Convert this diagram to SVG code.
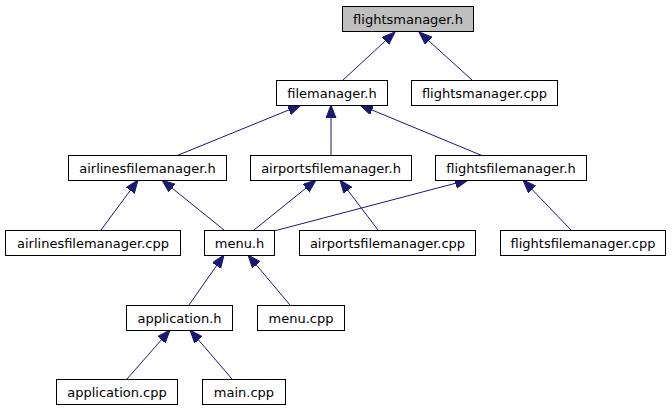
<svg xmlns="http://www.w3.org/2000/svg" width="672" height="411" viewBox="0 0 672 411">
<style>
.n rect{fill:#ffffff;stroke:#000000;stroke-width:1}
.n.root rect{fill:#bfbfbf}
.n text{font-family:"DejaVu Sans",sans-serif;font-size:13px;fill:#000000;text-anchor:middle}
.e line{stroke:#191970;stroke-width:1;marker-end:url(#ah)}
</style>
<defs>
<marker id="ah" markerUnits="userSpaceOnUse" markerWidth="14" markerHeight="11" refX="13" refY="5" orient="auto">
<path d="M0,0 L13,5 L0,10 z" fill="#191970" stroke="#191970" stroke-width="1"/>
</marker>
</defs>
<rect x="0" y="0" width="672" height="411" fill="#ffffff"/>
<g id="edges" class="e">
<line x1="343" y1="80" x2="395" y2="32"/>
<line x1="472" y1="80" x2="419" y2="32"/>
<line x1="176" y1="156" x2="301" y2="105"/>
<line x1="331" y1="156" x2="331" y2="105"/>
<line x1="483" y1="156" x2="360" y2="105"/>
<line x1="101" y1="230" x2="138" y2="180"/>
<line x1="224" y1="230" x2="162" y2="180"/>
<line x1="254" y1="230" x2="316" y2="180"/>
<line x1="274" y1="231" x2="468" y2="180"/>
<line x1="378" y1="230" x2="340" y2="180"/>
<line x1="571" y1="230" x2="523" y2="180"/>
<line x1="189" y1="305" x2="224" y2="255"/>
<line x1="290" y1="305" x2="248" y2="255"/>
<line x1="127" y1="379" x2="170" y2="330"/>
<line x1="232" y1="379" x2="190" y2="330"/>
</g>
<g id="flightsmanager_h" class="n root"><rect x="342.5" y="6.5" width="131" height="25"/><text x="408" y="23.5">flightsmanager.h</text></g>
<g id="filemanager_h" class="n"><rect x="276.5" y="80.5" width="111" height="25"/><text x="332" y="97.5">filemanager.h</text></g>
<g id="flightsmanager_cpp" class="n"><rect x="411.5" y="80.5" width="146" height="25"/><text x="484.5" y="97.5">flightsmanager.cpp</text></g>
<g id="airlinesfilemanager_h" class="n"><rect x="68.5" y="155.5" width="158" height="25"/><text x="147.5" y="172.5">airlinesfilemanager.h</text></g>
<g id="airportsfilemanager_h" class="n"><rect x="250.5" y="155.5" width="161" height="25"/><text x="331" y="172.5">airportsfilemanager.h</text></g>
<g id="flightsfilemanager_h" class="n"><rect x="435.5" y="155.5" width="151" height="25"/><text x="511" y="172.5">flightsfilemanager.h</text></g>
<g id="airlinesfilemanager_cpp" class="n"><rect x="5.5" y="230.5" width="175" height="25"/><text x="93" y="247.5">airlinesfilemanager.cpp</text></g>
<g id="menu_h" class="n"><rect x="204.5" y="230.5" width="70" height="25"/><text x="239.5" y="247.5">menu.h</text></g>
<g id="airportsfilemanager_cpp" class="n"><rect x="299.5" y="230.5" width="176" height="25"/><text x="387.5" y="247.5">airportsfilemanager.cpp</text></g>
<g id="flightsfilemanager_cpp" class="n"><rect x="500.5" y="230.5" width="165" height="25"/><text x="583" y="247.5">flightsfilemanager.cpp</text></g>
<g id="application_h" class="n"><rect x="126.5" y="305.5" width="106" height="25"/><text x="179.5" y="322.5">application.h</text></g>
<g id="menu_cpp" class="n"><rect x="257.5" y="305.5" width="87" height="25"/><text x="301" y="322.5">menu.cpp</text></g>
<g id="application_cpp" class="n"><rect x="56.5" y="379.5" width="121" height="25"/><text x="117" y="396.5">application.cpp</text></g>
<g id="main_cpp" class="n"><rect x="202.5" y="379.5" width="83" height="25"/><text x="244" y="396.5">main.cpp</text></g>
</svg>
